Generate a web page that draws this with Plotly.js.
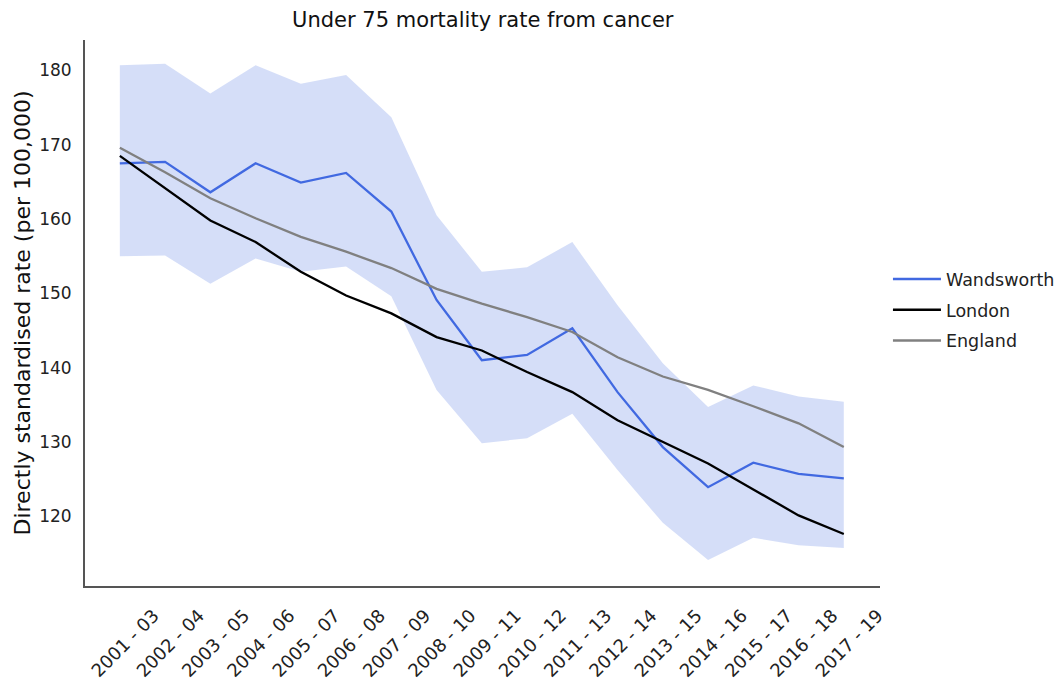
<!DOCTYPE html>
<html>
<head>
<meta charset="utf-8">
<script src="https://cdn.plot.ly/plotly-3.0.1.min.js"></script>
<style>html,body{margin:0;padding:0;background:#fff;}#chart{width:1061px;height:684px;}</style>
</head>
<body>
<div id="chart"></div>
<script>
const periods = ["2001 - 03","2002 - 04","2003 - 05","2004 - 06","2005 - 07","2006 - 08","2007 - 09","2008 - 10","2009 - 11","2010 - 12","2011 - 13","2012 - 14","2013 - 15","2014 - 16","2015 - 17","2016 - 18","2017 - 19"];
const wandsworth = [167.5,167.7,163.6,167.5,164.9,166.2,161.0,149.1,141.0,141.7,145.3,136.7,129.3,123.9,127.2,125.7,125.1];
const wandsworthUpper = [180.7,180.9,176.9,180.7,178.2,179.4,173.7,160.5,152.9,153.5,156.9,148.4,140.6,134.7,137.6,136.1,135.4];
const wandsworthLower = [155.0,155.1,151.3,154.7,152.9,153.6,149.6,137.0,129.8,130.5,133.8,126.2,119.1,114.1,117.1,116.1,115.7];
const london = [168.5,164.2,159.8,156.9,152.9,149.7,147.3,144.1,142.3,139.4,136.7,132.9,130.0,127.1,123.6,120.1,117.6];
const england = [169.6,166.3,162.8,160.1,157.6,155.6,153.4,150.6,148.6,146.8,144.8,141.4,138.8,137.0,134.8,132.5,129.3];
const yTicks = [120,130,140,150,160,170,180];

const idx = periods.map((_, i) => i);
const font = "DejaVu Sans, sans-serif";

const traces = [
  {x: idx, y: wandsworthUpper, mode: "lines", line: {width: 0, color: "rgba(0,0,0,0)"}, showlegend: false, hoverinfo: "skip"},
  {x: idx, y: wandsworthLower, mode: "lines", line: {width: 0, color: "rgba(0,0,0,0)"}, fill: "tonexty", fillcolor: "rgba(65,105,225,0.22)", showlegend: false, hoverinfo: "skip"},
  {x: idx, y: wandsworth, mode: "lines", name: "Wandsworth", legendgroup: "a", line: {color: "#4169e1", width: 2.3}},
  {x: idx, y: london, mode: "lines", name: "London", legendgroup: "b", line: {color: "#000000", width: 2.3}},
  {x: idx, y: england, mode: "lines", name: "England", legendgroup: "c", line: {color: "#808080", width: 2.3}}
];

const layout = {
  width: 1061, height: 684,
  margin: {l: 85, r: 181, t: 40, b: 98, autoexpand: false},
  paper_bgcolor: "#ffffff", plot_bgcolor: "#ffffff",
  font: {family: font, color: "#222", size: 15},
  title: {text: "Under 75 mortality rate from cancer", x: 0.455, xanchor: "center", y: 0.971, yanchor: "middle", font: {family: font, size: 21, color: "#111"}},
  xaxis: {
    range: [-0.77, 16.8], tickmode: "array", tickvals: idx, ticktext: periods, tickangle: -45,
    showgrid: false, zeroline: false, showline: true, linecolor: "#555", linewidth: 2,
    ticks: "", tickfont: {family: font, size: 18, color: "#222"},
    ticklabelshift: 34, ticklabelstandoff: 10
  },
  yaxis: {
    range: [110.6, 184.1], tickmode: "array", tickvals: yTicks, ticktext: yTicks.map(String),
    showgrid: false, zeroline: false, showline: true, linecolor: "#555", linewidth: 2,
    ticks: "", tickfont: {family: font, size: 17, color: "#222"}, ticklabelstandoff: 8,
    title: {text: "Directly standardised rate (per 100,000)", font: {family: font, size: 22, color: "#111"}, standoff: 2}
  },
  legend: {x: 1.01, xanchor: "left", y: 0.595, yanchor: "top", font: {family: font, size: 17.5, color: "#222"}, bgcolor: "rgba(0,0,0,0)", traceorder: "grouped", tracegroupgap: 5, itemwidth: 48},
  showlegend: true
};

Plotly.newPlot("chart", traces, layout, {displayModeBar: false, staticPlot: true});
</script>
</body>
</html>
